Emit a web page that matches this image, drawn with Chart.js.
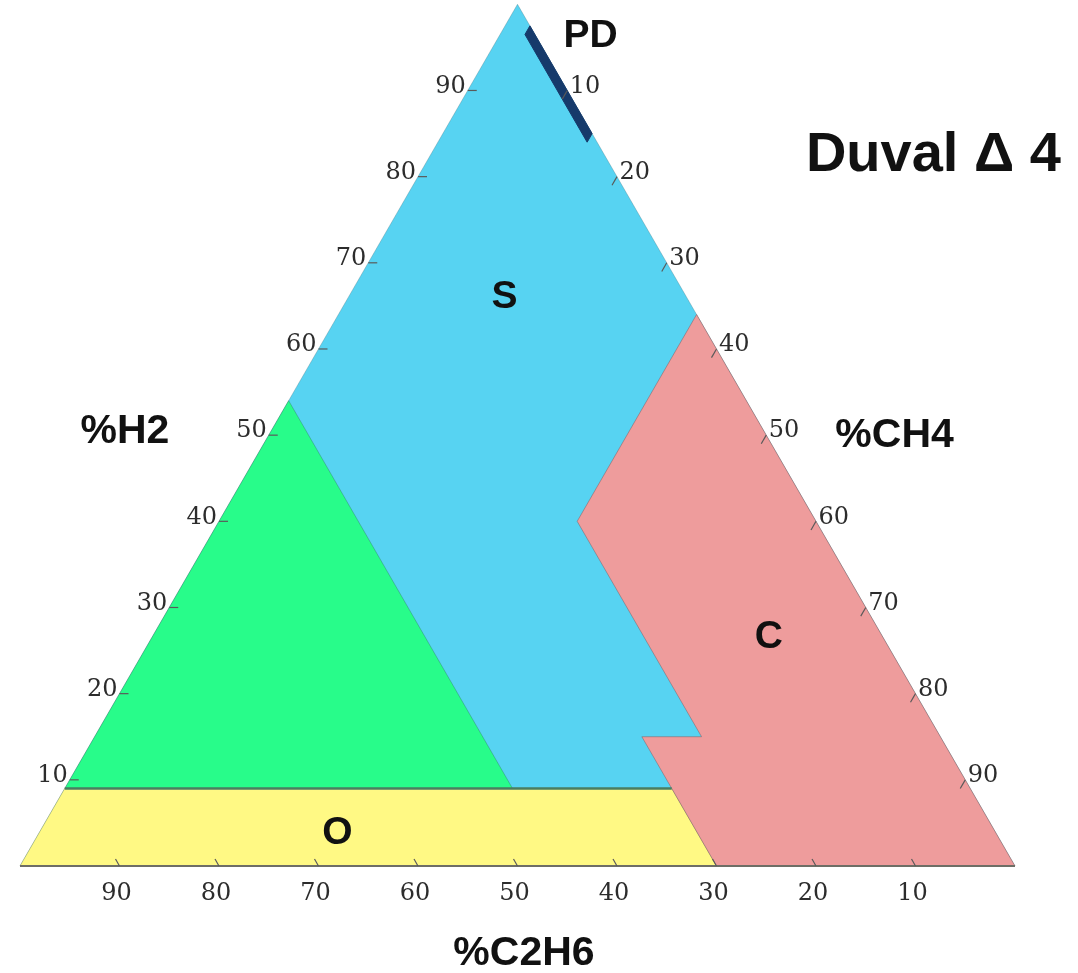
<!DOCTYPE html>
<html>
<head>
<meta charset="utf-8">
<script src="https://cdn.jsdelivr.net/npm/chart.js@4/dist/chart.umd.min.js"></script>
<style>
  html, body { margin: 0; padding: 0; background: #ffffff; }
  #wrap { width: 1078px; height: 973px; position: relative; }
</style>
</head>
<body>
<div id="wrap"><canvas id="c"></canvas></div>
<script>
// ---- Data (ternary percentages: H2 and CH4; C2H6 = 100 - H2 - CH4) ----
const tickValues = [10, 20, 30, 40, 50, 60, 70, 80, 90];

const zoneS_H2  = [100, 0, 0];
const zoneS_CH4 = [0, 100, 0];

const zoneND_H2  = [54, 9, 9];
const zoneND_CH4 = [0, 45, 0];

const zoneO_H2  = [9, 9, 0, 0];
const zoneO_CH4 = [0, 61, 70, 0];

const zoneC_H2  = [64, 40, 15, 15, 0, 0];
const zoneC_CH4 = [36, 36, 61, 55, 70, 100];

const zonePD_H2  = [97.5, 96.5, 84, 85];
const zonePD_CH4 = [2.5, 2.5, 15, 15];

const oLine_H2  = [9, 9];
const oLine_CH4 = [0, 61];

const base_H2  = [0, 0];
const base_CH4 = [0, 100];

// zone labels (ternary H2, CH4)
const zoneLabels = ['S', 'C', 'O', 'PD'];
const zoneLabel_H2  = [66.0, 26.5, 3.8, 96.3];
const zoneLabel_CH4 = [15.7, 62.0, 30.0, 9.2];

// ---- helpers ----
const SQ3 = Math.sqrt(3) / 2;
function tern(h, c) { return { x: c + h / 2, y: h * SQ3 }; }
function poly(hs, cs, close) {
  const pts = hs.map((h, i) => tern(h, cs[i]));
  if (close) pts.push(pts[0]);
  return pts;
}

function zone(label, hs, cs, fillColor, borderColor, order, bw) {
  return {
    label: label,
    data: poly(hs, cs, true),
    showLine: true,
    fill: 'shape',
    backgroundColor: fillColor,
    borderColor: borderColor,
    borderWidth: bw,
    pointRadius: 0,
    pointHoverRadius: 0,
    tension: 0,
    order: order
  };
}

const datasets = [
  zone('S',  zoneS_H2,  zoneS_CH4,  '#57D3F2', 'rgba(70,110,120,0.3)', 10, 1),
  zone('ND', zoneND_H2, zoneND_CH4, '#28FC8A', 'rgba(40,90,60,0.3)', 9, 1),
  zone('O',  zoneO_H2,  zoneO_CH4,  '#FFF984', 'rgba(120,120,60,0.3)', 8, 1),
  zone('C',  zoneC_H2,  zoneC_CH4,  '#EE9C9C', 'rgba(120,70,70,0.4)', 7, 1),
  zone('PD', zonePD_H2, zonePD_CH4, '#163A6B', '#163A6B', 4, 1),
  {
    label: 'Oline', data: poly(oLine_H2, oLine_CH4, false), showLine: true, fill: false,
    borderColor: '#4a7d62', borderWidth: 2.5, pointRadius: 0, tension: 0, order: 5
  },
  {
    label: 'base', data: poly(base_H2, base_CH4, false), showLine: true, fill: false,
    borderColor: '#6e6e66', borderWidth: 2, pointRadius: 0, tension: 0, order: 5
  }
];

// text labels placed in plot units
const axisTitles = ['%H2', '%CH4', '%C2H6', 'Duval \u0394 4'];
const axisTitle_X = [10.55, 87.9, 50.65, 91.8];
const axisTitle_Y = [43.6, 43.2, -8.8, 71.4];
const axisTitle_Size = [41, 41, 41, 56];

const annot = {
  id: 'ternaryAnnot',
  afterDatasetsDraw(chart) {
    const ctx = chart.ctx;
    const xs = chart.scales.x, ys = chart.scales.y;
    const P = (p) => ({ x: xs.getPixelForValue(p.x), y: ys.getPixelForValue(p.y) });
    ctx.save();
    // ticks
    ctx.strokeStyle = '#5a5a5a';
    ctx.lineWidth = 1.2;
    ctx.fillStyle = '#2c2c2c';
    ctx.font = '24px "DejaVu Serif", serif';
    tickValues.forEach(v => {
      // H2 (left edge)
      let p = P(tern(v, 0));
      ctx.beginPath(); ctx.moveTo(p.x, p.y); ctx.lineTo(p.x + 9, p.y); ctx.stroke();
      ctx.textAlign = 'right'; ctx.textBaseline = 'middle';
      ctx.fillText(String(v), p.x - 2, p.y - 4);
      // CH4 (right edge)
      p = P(tern(100 - v, v));
      ctx.beginPath(); ctx.moveTo(p.x, p.y); ctx.lineTo(p.x - 0.5 * 10, p.y + SQ3 * 10); ctx.stroke();
      ctx.textAlign = 'left'; ctx.textBaseline = 'middle';
      ctx.fillText(String(v), p.x + 2.5, p.y - 4);
      // C2H6 (bottom edge)
      p = P(tern(0, 100 - v));
      ctx.beginPath(); ctx.moveTo(p.x, p.y); ctx.lineTo(p.x - 0.5 * 8, p.y - SQ3 * 8); ctx.stroke();
      ctx.textAlign = 'center'; ctx.textBaseline = 'middle';
      ctx.fillText(String(v), p.x - 3, p.y + 28);
    });
    // zone labels
    ctx.fillStyle = '#111111';
    ctx.textAlign = 'center'; ctx.textBaseline = 'middle';
    ctx.font = 'bold 39px "Liberation Sans", Arial, sans-serif';
    zoneLabels.forEach((t, i) => {
      const p = P(tern(zoneLabel_H2[i], zoneLabel_CH4[i]));
      ctx.fillText(t, p.x, p.y);
    });
    // axis titles
    axisTitles.forEach((t, i) => {
      ctx.font = 'bold ' + axisTitle_Size[i] + 'px "Liberation Sans", Arial, sans-serif';
      const p = P({ x: axisTitle_X[i], y: axisTitle_Y[i] });
      ctx.fillText(t, p.x, p.y);
    });
    ctx.restore();
  }
};

new Chart(document.getElementById('c'), {
  type: 'scatter',
  data: { datasets: datasets },
  options: {
    responsive: true,
    maintainAspectRatio: false,
    animation: false,
    layout: { padding: 0 },
    plugins: { legend: { display: false }, tooltip: { enabled: false }, title: { display: false } },
    scales: {
      x: { type: 'linear', display: false, min: -2.0101, max: 106.332 },
      y: { type: 'linear', display: false, min: -10.754, max: 87.035 }
    }
  },
  plugins: [annot]
});
</script>
</body>
</html>
